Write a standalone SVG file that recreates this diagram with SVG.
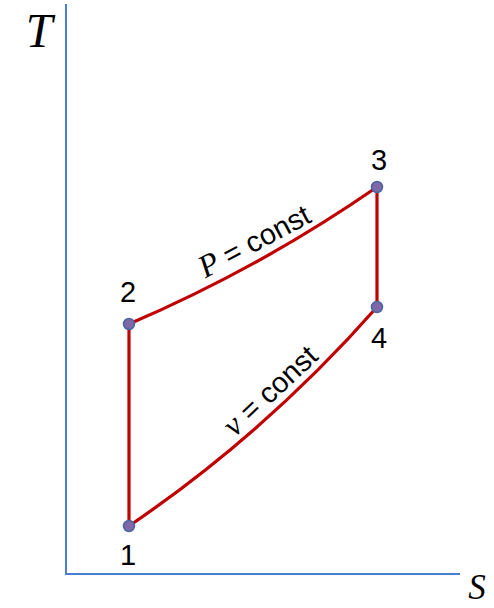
<svg xmlns="http://www.w3.org/2000/svg" width="494" height="608" viewBox="0 0 494 608">
<style>
.axis{stroke:#4a7fcf;stroke-width:2;fill:none}
.proc{stroke:#c00000;stroke-width:3.2;fill:none;stroke-linecap:round}
.pt{fill:#7f68a8;stroke:#4a66a0;stroke-width:1.5}
.num{font-family:"Liberation Sans",Arial,sans-serif;font-size:29px;fill:#000;text-anchor:middle}
.lab{font-family:"Liberation Sans",Arial,sans-serif;font-size:29px;fill:#000;text-anchor:middle}
.var{font-family:"Liberation Serif","Times New Roman",serif;font-style:italic;font-size:32px}
.ax{font-family:"Liberation Serif","Times New Roman",serif;font-style:italic;fill:#000;text-anchor:middle}
</style>
<rect width="494" height="608" fill="#fff"/>
<g id="axes">
<path class="axis" d="M66,4 V574 H460"/>
<text class="ax" x="39" y="47" font-size="48">T</text>
<text class="ax" x="477" y="599" font-size="35">S</text>
</g>
<g id="connectors">
<path class="proc" d="M129,324 V526"/>
<path class="proc" d="M129,324 Q260,268 377,187"/>
<path class="proc" d="M377,187 V307"/>
<path class="proc" d="M129,526 Q267,432 377,307"/>
<text class="lab" transform="translate(259,250) rotate(-28)"><tspan class="var">P</tspan> = const</text>
<text class="lab" transform="translate(277,398) rotate(-43)"><tspan class="var">ν</tspan> = const</text>
</g>
<g id="node1"><circle class="pt" cx="129" cy="526" r="5.5"/><text class="num" x="128" y="565">1</text></g>
<g id="node2"><circle class="pt" cx="129" cy="324" r="5.5"/><text class="num" x="128" y="302">2</text></g>
<g id="node3"><circle class="pt" cx="377" cy="187" r="5.5"/><text class="num" x="379" y="170">3</text></g>
<g id="node4"><circle class="pt" cx="377" cy="307" r="5.5"/><text class="num" x="379" y="348">4</text></g>
</svg>
